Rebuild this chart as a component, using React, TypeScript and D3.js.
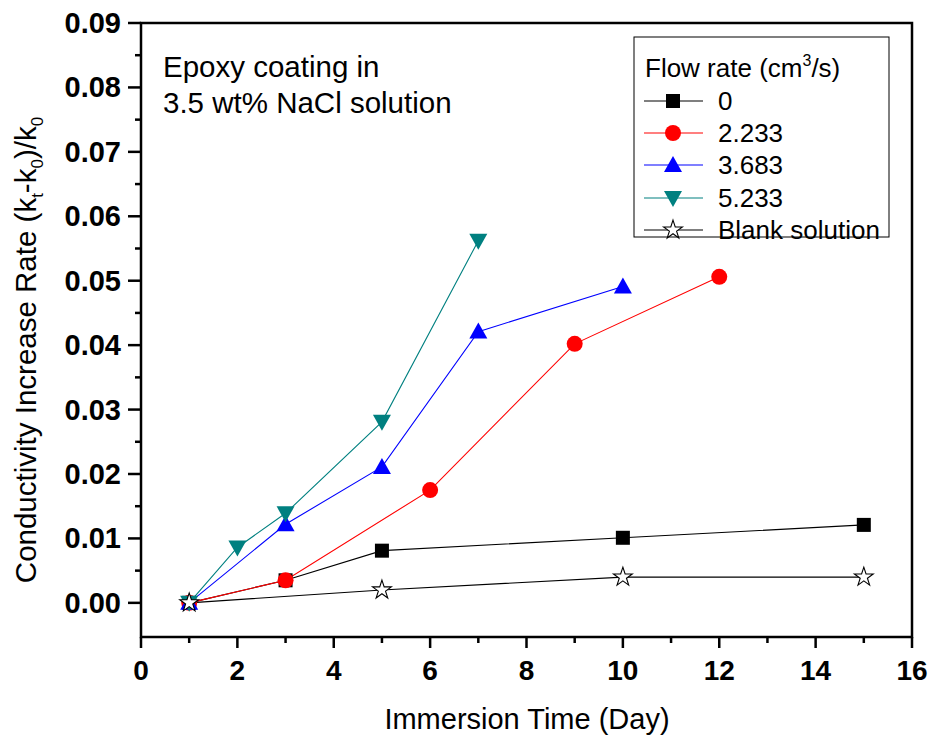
import React from "react";
import * as d3 from "d3";

// Immersion days and conductivity increase rate for each flow rate
const days0 = [1, 3, 5, 10, 15];
const rate0 = [0, 0.0035, 0.0081, 0.0101, 0.0121];
const days2233 = [1, 3, 6, 9, 12];
const rate2233 = [0, 0.0035, 0.0175, 0.0402, 0.0506];
const days3683 = [1, 3, 5, 7, 10];
const rate3683 = [0, 0.0122, 0.0211, 0.0421, 0.0491];
const days5233 = [1, 2, 3, 5, 7];
const rate5233 = [0, 0.0086, 0.0139, 0.0281, 0.0562];
const daysBlank = [1, 5, 10, 15];
const rateBlank = [0, 0.002, 0.004, 0.004];

const xTicks = [0, 2, 4, 6, 8, 10, 12, 14, 16];
const yTicks = [0, 0.01, 0.02, 0.03, 0.04, 0.05, 0.06, 0.07, 0.08, 0.09];

type Series = { label: string; xs: number[]; ys: number[]; color: string; marker: string };
const series: Series[] = [
  { label: "0", xs: days0, ys: rate0, color: "#000000", marker: "square" },
  { label: "2.233", xs: days2233, ys: rate2233, color: "#ff0000", marker: "circle" },
  { label: "3.683", xs: days3683, ys: rate3683, color: "#0000ff", marker: "up" },
  { label: "5.233", xs: days5233, ys: rate5233, color: "#008080", marker: "down" },
  { label: "Blank solution", xs: daysBlank, ys: rateBlank, color: "#000000", marker: "star" },
];

const FONT = "Liberation Sans, Arial, sans-serif";

function Marker({ kind, x, y, color }: { kind: string; x: number; y: number; color: string }) {
  if (kind === "square") return <rect x={x - 7} y={y - 7} width={14} height={14} fill={color} />;
  if (kind === "circle") return <circle cx={x} cy={y} r={8} fill={color} />;
  if (kind === "up")
    return <path d={`M${x},${y - 9} L${x + 9},${y + 7} L${x - 9},${y + 7} Z`} fill={color} />;
  if (kind === "down")
    return <path d={`M${x},${y + 9} L${x + 9},${y - 7} L${x - 9},${y - 7} Z`} fill={color} />;
  const star = d3.symbol(d3.symbolStar, 110)();
  return (
    <path d={star || ""} transform={`translate(${x},${y})`} fill="#ffffff" stroke="#000000" strokeWidth={1.1} />
  );
}

export default function App() {
  const left = 141, right = 912, top = 23, bottom = 637;
  const x = d3.scaleLinear().domain([0, 16]).range([left, right]);
  const y = d3.scaleLinear().domain([-0.0053, 0.09]).range([bottom, top]);
  const line = d3.line<[number, number]>().x((d) => x(d[0])).y((d) => y(d[1]));

  const xMinor = d3.range(1, 16, 2);
  const yMinor = d3.range(0, 9).map((i) => i * 0.01 + 0.005);

  const legendRows = [101, 133, 165, 198, 230];

  return (
    <svg width={934} height={742} style={{ position: "absolute", left: 0, top: 0, background: "#fff" }} fontFamily={FONT}>
      <rect x={0} y={0} width={934} height={742} fill="#fff" />
      {/* series lines */}
      {series.map((s) => (
        <path
          key={"l" + s.label}
          d={line(s.xs.map((v, i) => [v, s.ys[i]] as [number, number])) || ""}
          fill="none"
          stroke={s.color}
          strokeWidth={1.1}
        />
      ))}
      {/* series markers */}
      {series.map((s) =>
        s.xs.map((v, i) => <Marker key={s.label + i} kind={s.marker} x={x(v)} y={y(s.ys[i])} color={s.color} />)
      )}
      {/* frame */}
      <rect x={left} y={top} width={right - left} height={bottom - top} fill="none" stroke="#000" strokeWidth={2.5} />
      {/* x ticks */}
      {xTicks.map((t) => (
        <g key={"xt" + t}>
          <line x1={x(t)} x2={x(t)} y1={bottom} y2={bottom + 11} stroke="#000" strokeWidth={2.5} />
          <text x={x(t)} y={680} textAnchor="middle" fontSize={28} fontWeight="bold">
            {t}
          </text>
        </g>
      ))}
      {xMinor.map((t) => (
        <line key={"xm" + t} x1={x(t)} x2={x(t)} y1={bottom} y2={bottom + 6} stroke="#000" strokeWidth={2.5} />
      ))}
      {/* y ticks */}
      {yTicks.map((t) => (
        <g key={"yt" + t}>
          <line x1={left - 13} x2={left} y1={y(t)} y2={y(t)} stroke="#000" strokeWidth={2.5} />
          <text x={121} y={y(t) + 10} textAnchor="end" fontSize={29} fontWeight="bold">
            {t.toFixed(2)}
          </text>
        </g>
      ))}
      {yMinor.map((t) => (
        <line key={"ym" + t} x1={left - 6} x2={left} y1={y(t)} y2={y(t)} stroke="#000" strokeWidth={2.5} />
      ))}
      {/* axis titles */}
      <text x={527} y={729} textAnchor="middle" fontSize={29}>
        Immersion Time (Day)
      </text>
      <text transform="translate(36,350) rotate(-90)" textAnchor="middle" fontSize={29.5}>
        Conductivity Increase Rate (k
        <tspan fontSize={17} dy={7}>t</tspan>
        <tspan dy={-7}>-k</tspan>
        <tspan fontSize={17} dy={7}>0</tspan>
        <tspan dy={-7}>)/k</tspan>
        <tspan fontSize={17} dy={7}>0</tspan>
      </text>
      {/* annotation */}
      <text x={163} y={77} fontSize={29.5}>Epoxy coating in</text>
      <text x={163} y={113} fontSize={29.5}>3.5 wt% NaCl solution</text>
      {/* legend */}
      <rect x={634} y={37} width={255} height={200} fill="#fff" stroke="#000" strokeWidth={1} />
      <text x={645} y={77} fontSize={26}>
        Flow rate (cm
        <tspan fontSize={16} dy={-11}>3</tspan>
        <tspan dy={11}>/s)</tspan>
      </text>
      {series.map((s, i) => (
        <g key={"lg" + s.label}>
          <line x1={644} x2={703} y1={legendRows[i]} y2={legendRows[i]} stroke={s.color} strokeWidth={1.1} />
          <Marker kind={s.marker} x={673} y={legendRows[i]} color={s.color} />
          <text x={718} y={legendRows[i] + 9} fontSize={26}>
            {s.label}
          </text>
        </g>
      ))}
    </svg>
  );
}
